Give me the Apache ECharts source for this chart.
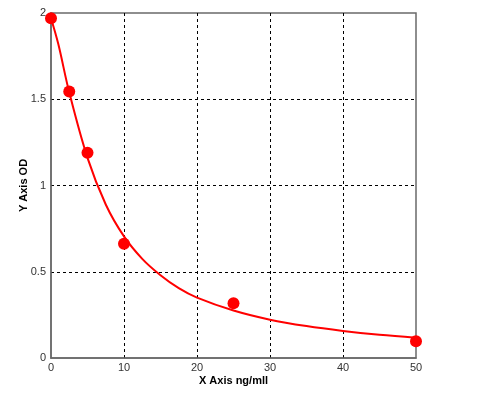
<!DOCTYPE html>
<html><head><meta charset="utf-8">
<script src="https://cdn.jsdelivr.net/npm/echarts@6/dist/echarts.min.js"></script>
<style>html,body{margin:0;padding:0;background:#fff}#c{width:483px;height:396px}</style>
</head><body><div id="c"></div>
<script>
// Measured standard points
var pointX = [0, 2.5, 5, 10, 25, 50];
var pointY = [1.97, 1.545, 1.19, 0.662, 0.318, 0.097];
// Fitted curve
var curveX = [0, 1, 2.5, 5, 7.5, 10, 12.5, 15, 17.5, 20, 25, 30, 35, 40, 45, 50];
var curveY = [1.97, 1.82, 1.54, 1.16, 0.89, 0.705, 0.575, 0.48, 0.405, 0.35, 0.275, 0.222, 0.185, 0.157, 0.135, 0.118];
var xTicks = [0, 10, 20, 30, 40, 50];
var yTicks = [0, 0.5, 1, 1.5, 2];

var chart = echarts.init(document.getElementById('c'));
var font = 'Liberation Sans, Arial, sans-serif';
chart.setOption({
  animation: false,
  grid: {left: 51, right: 67, top: 13, bottom: 38, show: true, borderColor: '#6a6a6a', borderWidth: 1.5, backgroundColor: '#fff'},
  xAxis: {
    type: 'value', min: xTicks[0], max: xTicks[xTicks.length-1], interval: 10,
    name: 'X Axis ng/mll', nameLocation: 'middle', nameGap: 17, nameMoveOverlap: false,
    nameTextStyle: {fontFamily: font, fontSize: 11, fontWeight: 'bold', color: '#000'},
    axisLine: {show: true, lineStyle: {color: '#6a6a6a', width: 1.5}},
    axisTick: {show: false},
    axisLabel: {fontFamily: font, fontSize: 11, color: '#333', margin: 4},
    splitLine: {show: true, showMinLine: false, showMaxLine: false, lineStyle: {color: '#000', type: [3, 3], width: 1}}
  },
  yAxis: {
    type: 'value', min: yTicks[0], max: yTicks[yTicks.length-1], interval: 0.5,
    name: 'Y Axis OD', nameLocation: 'middle', nameGap: 22, nameMoveOverlap: false,
    nameTextStyle: {fontFamily: font, fontSize: 11, fontWeight: 'bold', color: '#000'},
    axisLine: {show: true, lineStyle: {color: '#6a6a6a', width: 1.5}},
    axisTick: {show: false},
    axisLabel: {fontFamily: font, fontSize: 11, color: '#333', margin: 5},
    splitLine: {show: true, showMinLine: false, showMaxLine: false, lineStyle: {color: '#000', type: [3, 3], width: 1}}
  },
  series: [
    {type: 'line', data: curveX.map(function(x, i){return [x, curveY[i]];}), smooth: 0.35, showSymbol: false, lineStyle: {color: '#ff0000', width: 2}, z: 2},
    {type: 'scatter', data: pointX.map(function(x, i){return [x, pointY[i]];}), symbolSize: 12, itemStyle: {color: '#ff0000', opacity: 1}, z: 3}
  ]
});
</script></body></html>
